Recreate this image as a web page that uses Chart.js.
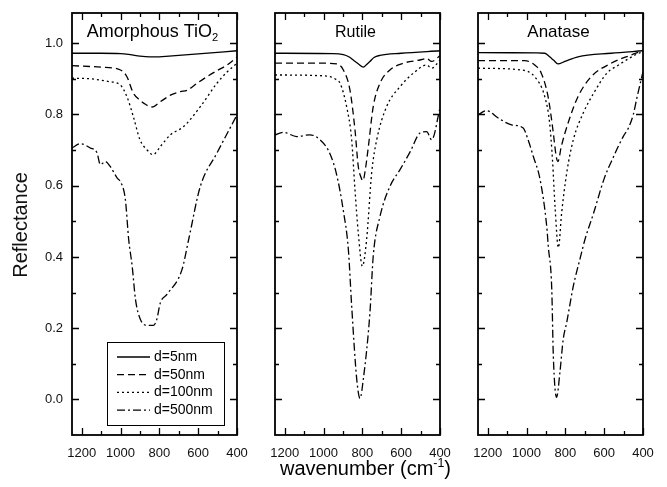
<!DOCTYPE html>
<html>
<head>
<meta charset="utf-8">
<title>Reflectance of TiO2 films</title>
<script src="https://cdn.jsdelivr.net/npm/chart.js@4.4.0/dist/chart.umd.min.js"></script>
<style>
  body { margin: 0; background: #fff; }
  #wrap { position: relative; width: 667px; height: 487px; }
  #wrap canvas { position: absolute; left: 0; top: 0; }
</style>
</head>
<body>
<div id="wrap">
  <canvas id="amorph" width="667" height="487"></canvas>
  <canvas id="rutile" width="667" height="487"></canvas>
  <canvas id="anatase" width="667" height="487"></canvas>
</div>
<script>
// ---- data (wavenumber in cm-1, reflectance) ----
const seriesLabels = ['d=5nm', 'd=50nm', 'd=100nm', 'd=500nm'];
const xMajorTicks = [1200, 1000, 800, 600, 400];
const xMinorTicks = [1100, 900, 700, 500];
const yMajorTicks = [0.0, 0.2, 0.4, 0.6, 0.8, 1.0];
const yMinorTicks = [0.1, 0.3, 0.5, 0.7, 0.9];

// Amorphous TiO2
const amorphWn5 = [1250, 1100, 1000, 950, 900, 850, 800, 750, 600, 400];
const amorphR5  = [0.972, 0.972, 0.971, 0.968, 0.964, 0.962, 0.962, 0.964, 0.970, 0.979];
const amorphWn50 = [1250, 1100, 1000, 967, 934, 900, 881, 838, 795, 740, 692, 657, 600, 555, 500, 451, 400];
const amorphR50  = [0.937, 0.933, 0.925, 0.906, 0.860, 0.840, 0.832, 0.821, 0.836, 0.855, 0.864, 0.868, 0.890, 0.906, 0.924, 0.939, 0.961];
const amorphWn100 = [1250, 1150, 1055, 1001, 967, 934, 900, 864, 833, 795, 743, 675, 589, 503, 450, 400];
const amorphR100  = [0.902, 0.900, 0.892, 0.883, 0.850, 0.794, 0.729, 0.701, 0.687, 0.710, 0.743, 0.766, 0.822, 0.888, 0.920, 0.944];
const amorphWn500 = [1250, 1207, 1156, 1121, 1104, 1078, 1053, 1018, 997, 975, 958, 940, 923, 898, 864, 830, 813, 795, 761, 683, 649, 589, 503, 400];
const amorphR500  = [0.706, 0.718, 0.706, 0.692, 0.659, 0.668, 0.654, 0.622, 0.608, 0.561, 0.449, 0.374, 0.281, 0.225, 0.208, 0.208, 0.225, 0.271, 0.295, 0.365, 0.449, 0.598, 0.692, 0.799];

// Rutile
const rutileWn5 = [1250, 950, 898, 870, 847, 820, 795, 775, 761, 740, 709, 600, 400];
const rutileR5  = [0.972, 0.971, 0.968, 0.962, 0.953, 0.942, 0.933, 0.942, 0.949, 0.960, 0.966, 0.972, 0.979];
const rutileWn50 = [1250, 1000, 932, 898, 864, 838, 821, 808, 797, 786, 769, 744, 709, 658, 589, 503, 469, 443, 400];
const rutileR50  = [0.944, 0.944, 0.942, 0.925, 0.869, 0.757, 0.654, 0.625, 0.614, 0.640, 0.710, 0.822, 0.888, 0.925, 0.944, 0.953, 0.957, 0.949, 0.965];
const rutileWn100 = [1250, 984, 932, 915, 881, 855, 838, 821, 800, 778, 752, 726, 675, 606, 537, 469, 443, 400];
const rutileR100  = [0.911, 0.908, 0.897, 0.888, 0.822, 0.729, 0.589, 0.468, 0.374, 0.449, 0.636, 0.729, 0.822, 0.878, 0.916, 0.939, 0.930, 0.953];
const rutileWn500 = [1250, 1207, 1138, 1070, 1018, 967, 932, 898, 872, 855, 829, 812, 795, 761, 744, 709, 658, 606, 554, 503, 469, 443, 400];
const rutileR500  = [0.743, 0.750, 0.738, 0.743, 0.729, 0.690, 0.630, 0.530, 0.420, 0.262, 0.057, 0.003, 0.057, 0.243, 0.402, 0.514, 0.598, 0.645, 0.695, 0.748, 0.752, 0.729, 0.818];

// Anatase
const anataseWn5 = [1250, 950, 906, 881, 860, 838, 803, 735, 564, 400];
const anataseR5  = [0.974, 0.973, 0.972, 0.962, 0.952, 0.942, 0.949, 0.962, 0.972, 0.979];
const anataseWn50 = [1250, 1009, 958, 924, 889, 864, 847, 838, 821, 786, 735, 667, 564, 461, 400];
const anataseR50  = [0.951, 0.951, 0.939, 0.916, 0.850, 0.757, 0.682, 0.668, 0.710, 0.776, 0.850, 0.906, 0.944, 0.967, 0.979];
const anataseWn100 = [1250, 1026, 958, 906, 881, 866, 853, 836, 819, 793, 759, 708, 654, 586, 526, 441, 400];
const anataseR100  = [0.930, 0.925, 0.906, 0.850, 0.776, 0.670, 0.540, 0.426, 0.524, 0.636, 0.729, 0.804, 0.860, 0.916, 0.939, 0.967, 0.977];
const anataseWn500 = [1250, 1206, 1146, 1077, 1017, 992, 965, 930, 896, 888, 870, 862, 845, 828, 811, 793, 759, 723, 699, 654, 600, 553, 500, 477, 450, 430, 400];
const anataseR500  = [0.799, 0.811, 0.790, 0.771, 0.762, 0.729, 0.682, 0.617, 0.486, 0.430, 0.309, 0.122, 0.006, 0.076, 0.169, 0.216, 0.318, 0.398, 0.449, 0.524, 0.620, 0.680, 0.740, 0.760, 0.800, 0.850, 0.920];

// line styles for the four thicknesses
const dashes = [[], [7, 4], [2, 3], [8, 3, 2, 3]];
const FONT = '"Liberation Sans", Arial, Helvetica, sans-serif';

function pts(xs, ys) {
    return xs.map((v, i) => ({ x: v, y: ys[i] }));
}

function makeDatasets(pairs) {
    return pairs.map(([xs, ys], i) => ({
        label: seriesLabels[i],
        data: pts(xs, ys),
        borderColor: '#000',
        borderWidth: 1.3,
        borderDash: dashes[i],
        cubicInterpolationMode: 'monotone',
        pointRadius: 0,
        fill: false
    }));
}

// draws text made of parts, some of them sub/superscripts
function drawParts(ctx, parts, cx, baseline, size) {
    const widths = parts.map(p => {
        ctx.font = (p.small ? size * 0.62 : size) + 'px ' + FONT;
        return ctx.measureText(p.t).width;
    });
    let x = cx - widths.reduce((a, b) => a + b, 0) / 2;
    ctx.textAlign = 'left';
    ctx.textBaseline = 'alphabetic';
    parts.forEach((p, i) => {
        ctx.font = (p.small ? size * 0.62 : size) + 'px ' + FONT;
        ctx.fillText(p.t, x, baseline + (p.dy || 0));
        x += widths[i];
    });
}

const panelFrame = {
    id: 'panelFrame',
    afterDraw(chart, args, opts) {
        const { ctx, chartArea: a } = chart;
        const xs = chart.scales.x, ys = chart.scales.y;
        ctx.save();
        ctx.strokeStyle = '#000';
        ctx.fillStyle = '#000';
        ctx.setLineDash([]);

        // inward ticks on all four sides
        ctx.lineWidth = 1.3;
        ctx.beginPath();
        const xt = (vals, len) => vals.forEach(v => {
            const p = Math.round(xs.getPixelForValue(v)) + 0.5;
            ctx.moveTo(p, a.bottom); ctx.lineTo(p, a.bottom - len);
            ctx.moveTo(p, a.top); ctx.lineTo(p, a.top + len);
        });
        const yt = (vals, len) => vals.forEach(v => {
            const p = Math.round(ys.getPixelForValue(v)) + 0.5;
            ctx.moveTo(a.left, p); ctx.lineTo(a.left + len, p);
            ctx.moveTo(a.right, p); ctx.lineTo(a.right - len, p);
        });
        xt(xMajorTicks, 7); xt(xMinorTicks, 4);
        yt(yMajorTicks, 7); yt(yMinorTicks, 4);
        ctx.stroke();

        ctx.lineWidth = 1.8;
        ctx.strokeRect(a.left, a.top, a.right - a.left, a.bottom - a.top);

        // x tick labels
        ctx.fillStyle = '#111';
        ctx.font = '13px ' + FONT;
        ctx.textAlign = 'center';
        ctx.textBaseline = 'alphabetic';
        xMajorTicks.forEach(v => ctx.fillText(String(v), xs.getPixelForValue(v), a.bottom + 22));

        // y tick labels + y title only on first panel
        if (opts.yLabels) {
            ctx.textAlign = 'right';
            ctx.textBaseline = 'middle';
            yMajorTicks.forEach(v => ctx.fillText(v.toFixed(1), a.left - 9, ys.getPixelForValue(v)));
            ctx.save();
            ctx.translate(21, (a.top + a.bottom) / 2 + 1);
            ctx.rotate(-Math.PI / 2);
            ctx.font = '20px ' + FONT;
            ctx.textAlign = 'center';
            ctx.textBaseline = 'middle';
            ctx.fillText('Reflectance', 0, 0);
            ctx.restore();
        }

        // panel title inside the frame
        ctx.fillStyle = '#000';
        drawParts(ctx, opts.title, (a.left + a.right) / 2 - 2, a.top + 24, opts.titleSize || 17);

        // x axis title under the middle panel
        if (opts.xTitle) {
            drawParts(ctx, [
                { t: 'wavenumber (cm' },
                { t: '-1', small: true, dy: -8 },
                { t: ')' }
            ], (a.left + a.right) / 2 + 8, a.bottom + 40, 20);
        }

        // legend box
        if (opts.legend) {
            const L = opts.legend;
            ctx.lineWidth = 1;
            ctx.strokeRect(L.x + 0.5, L.y + 0.5, L.w, L.h);
            ctx.font = '14px ' + FONT;
            ctx.textAlign = 'left';
            ctx.textBaseline = 'middle';
            chart.data.datasets.forEach((ds, i) => {
                const yy = L.y + 15 + i * 17.7;
                ctx.lineWidth = 1.3;
                ctx.setLineDash(ds.borderDash);
                ctx.beginPath();
                ctx.moveTo(L.x + 10, yy);
                ctx.lineTo(L.x + 43, yy);
                ctx.stroke();
                ctx.setLineDash([]);
                ctx.fillText(ds.label, L.x + 47, yy);
            });
        }
        ctx.restore();
    }
};

function panel(id, pad, pairs, opts) {
    return new Chart(document.getElementById(id), {
        type: 'line',
        data: { datasets: makeDatasets(pairs) },
        options: {
            responsive: false,
            animation: false,
            events: [],
            layout: { padding: pad },
            scales: {
                x: { type: 'linear', reverse: true, min: 400, max: 1250, display: false },
                y: { type: 'linear', min: -0.1, max: 1.085, display: false }
            },
            plugins: {
                legend: { display: false },
                tooltip: { enabled: false },
                panelFrame: opts
            }
        },
        plugins: [panelFrame]
    });
}

panel('amorph', { left: 72, right: 430, top: 13, bottom: 52 },
    [[amorphWn5, amorphR5], [amorphWn50, amorphR50], [amorphWn100, amorphR100], [amorphWn500, amorphR500]],
    {
        yLabels: true,
        title: [{ t: 'Amorphous TiO' }, { t: '2', small: true, dy: 4 }],
        titleSize: 18,
        legend: { x: 107, y: 342, w: 117, h: 83 }
    });

panel('rutile', { left: 275, right: 227, top: 13, bottom: 52 },
    [[rutileWn5, rutileR5], [rutileWn50, rutileR50], [rutileWn100, rutileR100], [rutileWn500, rutileR500]],
    { title: [{ t: 'Rutile' }], titleSize: 16, xTitle: true });

panel('anatase', { left: 478, right: 24, top: 13, bottom: 52 },
    [[anataseWn5, anataseR5], [anataseWn50, anataseR50], [anataseWn100, anataseR100], [anataseWn500, anataseR500]],
    { title: [{ t: 'Anatase' }], titleSize: 17 });
</script>
</body>
</html>
